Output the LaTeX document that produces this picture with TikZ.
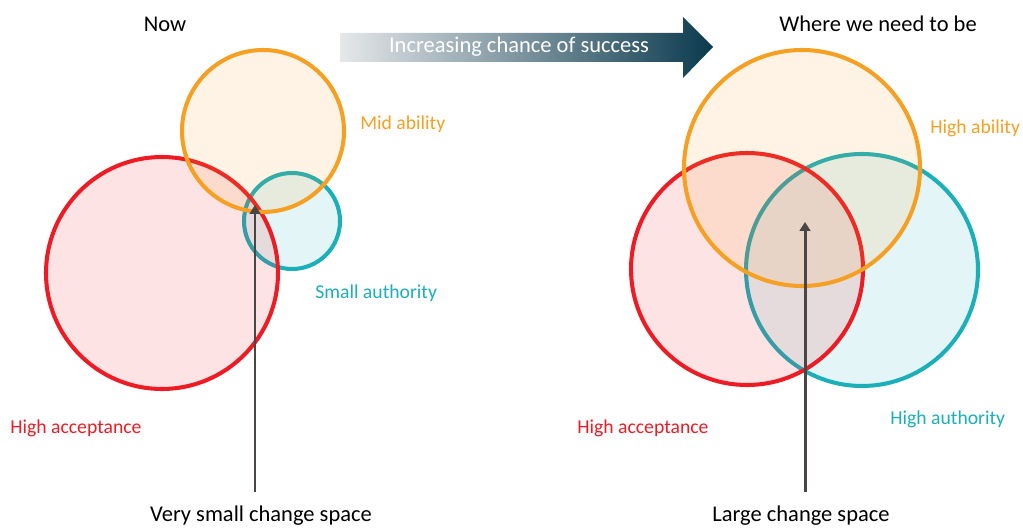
\documentclass[tikz,border=0pt]{standalone}
\usepackage{fontspec}
\setmainfont{Carlito}
\usetikzlibrary{arrows.meta,positioning}

\definecolor{accred}{HTML}{ED1C24}
\definecolor{ablorange}{HTML}{F5A023}
\definecolor{authteal}{HTML}{1BAFBA}
\definecolor{spacegray}{HTML}{4B4545}
\definecolor{chancedark}{HTML}{0B3A4E}
\definecolor{chancelight}{HTML}{E6E8EA}

\tikzset{
  venn/.style={circle,draw=#1,fill=#1,fill opacity=0.12,draw opacity=1,
    line width=2.3pt,inner sep=0pt,outer sep=0pt},
  lbl/.style={font=\fontsize{12.8}{15}\selectfont,inner sep=0pt},
  setlbl/.style={font=\fontsize{11.2}{13}\selectfont,inner sep=0pt,
    anchor=west,text=#1},
  spacearrow/.style={draw=spacegray,line width=1.7pt,
    -{Triangle[length=5pt,width=6pt]}}
}

\begin{document}
\begin{tikzpicture}[x=0.02cm,y=-0.02cm]
    \useasboundingbox (0,0) rectangle (1023,530);
    % chance arrow (shaded)
    \coordinate (chTail) at (340,47);
    \coordinate (chTip) at (713,47);
    \shade[left color=chancelight,right color=chancedark]
      (340,33) -- (683,33) -- (683,17) -- (chTip) -- (683,78)
      -- (683,62) -- (340,62) -- cycle;
    \node[lbl,white] (chance) at (519,47) {Increasing chance of success};

    % now
    \node[lbl] (nowTitle) at (165,24) {Now};
    \node[venn=authteal,minimum size=96*0.02cm] (nowAuth) at (292,221) {};
    \node[venn=accred,minimum size=232*0.02cm] (nowAcc) at (162,273) {};
    \node[venn=ablorange,minimum size=162*0.02cm] (nowAbl) at (263,131) {};
    \node[setlbl=ablorange] (nowAblTxt) at (360,124) {Mid ability};
    \node[setlbl=authteal] (nowAuthTxt) at (315,293) {Small authority};
    \node[setlbl=accred] (nowAccTxt) at (10,428) {High acceptance};
    \node[lbl] (nowSpace) at (261,516) {Very small change space};
    \coordinate (nowFoot) at (255,492);
    \coordinate (nowHit) at (255,205);
    \draw[spacearrow] (nowFoot) -- (nowHit);

    % where we need to be
    \node[lbl] (needTitle) at (878,24) {Where we need to be};
    \node[venn=authteal,minimum size=232*0.02cm] (needAuth) at (862,270) {};
    \node[venn=accred,minimum size=232*0.02cm] (needAcc) at (747,269) {};
    \node[venn=ablorange,minimum size=236*0.02cm] (needAbl) at (802,168) {};
    \node[setlbl=ablorange] (needAblTxt) at (930,128) {High ability};
    \node[setlbl=authteal] (needAuthTxt) at (890,419) {High authority};
    \node[setlbl=accred] (needAccTxt) at (577,428) {High acceptance};
    \node[lbl] (needSpace) at (801,516) {Large change space};
    \coordinate (needFoot) at (805,492);
    \coordinate (needHit) at (805,222);
    \draw[spacearrow] (needFoot) -- (needHit);
\end{tikzpicture}
\end{document}
